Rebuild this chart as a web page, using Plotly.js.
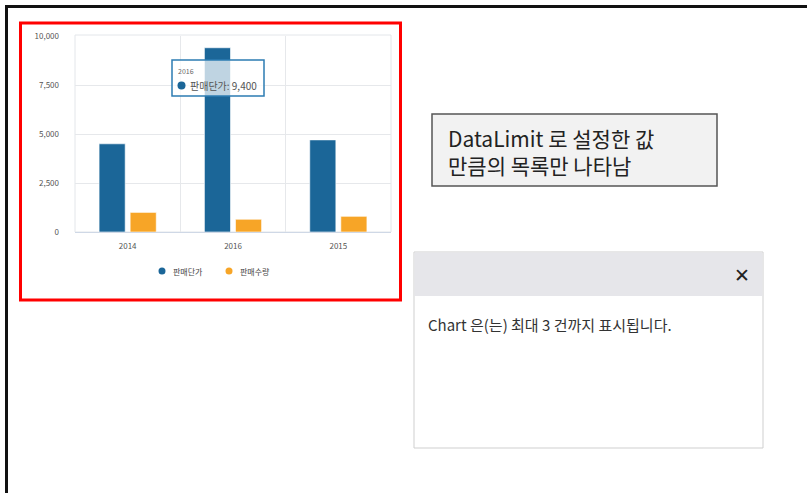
<!DOCTYPE html>
<html>
<head>
<meta charset="utf-8">
<script src="https://cdn.plot.ly/plotly-3.0.1.min.js"></script>
<style>
html,body{margin:0;padding:0;background:#fff;}
#chart{width:807px;height:493px;}
</style>
</head>
<body>
<div id="chart"></div>
<script>
const categories = ['2014', '2016', '2015'];
const seriesNames = ['판매단가', '판매수량'];
const unitPrice = [4500, 9400, 4700];
const quantity = [1000, 650, 800];
const yTicks = [0, 2500, 5000, 7500, 10000];
const yTickLabels = ['0', '2,500', '5,000', '7,500', '10,000'];
const noteText = ['DataLimit 로 설정한 값', '만큼의 목록만 나타남'];
const dialogText = 'Chart 은(는) 최대 3 건까지 표시됩니다.';

const W = 807, H = 493;
const px = x => x / W;
const py = y => 1 - y / H;
const blue = '#1b6698';
const orange = '#f7a527';
const KR = '"Noto Sans CJK KR", "Noto Sans", sans-serif';

const traces = [
  {type: 'bar', x: categories, y: unitPrice, name: seriesNames[0],
   marker: {color: blue, line: {color: 'rgba(255,255,255,0.6)', width: 1}},
   showlegend: false, hoverinfo: 'skip'},
  {type: 'bar', x: categories, y: quantity, name: seriesNames[1],
   marker: {color: orange, line: {color: 'rgba(255,255,255,0.6)', width: 1}},
   showlegend: false, hoverinfo: 'skip'}
];

const shapes = [
  // outer black frame (top and left)
  {type: 'line', xref: 'paper', yref: 'paper', x0: px(5.5), x1: px(807), y0: py(6.5), y1: py(6.5), line: {color: '#111', width: 3}},
  {type: 'line', xref: 'paper', yref: 'paper', x0: px(6.5), x1: px(6.5), y0: py(5), y1: py(493), line: {color: '#111', width: 3}},
  // red frame
  {type: 'rect', xref: 'paper', yref: 'paper', x0: px(20.5), x1: px(400.5), y0: py(23), y1: py(300), line: {color: '#ff0000', width: 3}},
  // plot area border
  {type: 'rect', xref: 'paper', yref: 'paper', x0: px(75), x1: px(391), y0: py(232), y1: py(35), line: {color: '#e3e6ea', width: 1}, layer: 'below'},
  // legend markers
  {type: 'circle', xref: 'paper', yref: 'paper', x0: px(158.5), x1: px(165.5), y0: py(267.5), y1: py(274.5), fillcolor: blue, line: {width: 0}},
  {type: 'circle', xref: 'paper', yref: 'paper', x0: px(225.5), x1: px(232.5), y0: py(267.5), y1: py(274.5), fillcolor: orange, line: {width: 0}},
  // tooltip box
  {type: 'rect', xref: 'paper', yref: 'paper', x0: px(172), x1: px(264), y0: py(96), y1: py(60), fillcolor: 'rgba(255,255,255,0.72)', line: {color: '#2d7cb3', width: 1.5}},
  // tooltip dot
  {type: 'circle', xref: 'paper', yref: 'paper', x0: px(177.5), x1: px(185.5), y0: py(81.5), y1: py(89.5), fillcolor: blue, line: {width: 0}},
  // note box
  {type: 'rect', xref: 'paper', yref: 'paper', x0: px(432), x1: px(717), y0: py(114), y1: py(186), fillcolor: '#f2f2f2', line: {color: '#555', width: 1.5}},
  // dialog
  {type: 'rect', xref: 'paper', yref: 'paper', x0: px(414), x1: px(763), y0: py(252), y1: py(448), fillcolor: '#ffffff', line: {color: '#cfcfcf', width: 1}},
  {type: 'rect', xref: 'paper', yref: 'paper', x0: px(414.5), x1: px(762.5), y0: py(252.5), y1: py(296), fillcolor: '#e6e6ea', line: {width: 0}}
];

const fmt = v => v.toLocaleString('en-US');

const annotations = [
  // legend labels
  {xref: 'paper', yref: 'paper', x: px(171), y: py(271), xanchor: 'left', yanchor: 'middle', showarrow: false,
   text: seriesNames[0], font: {family: KR, size: 8, color: '#444'}},
  {xref: 'paper', yref: 'paper', x: px(238), y: py(271), xanchor: 'left', yanchor: 'middle', showarrow: false,
   text: seriesNames[1], font: {family: KR, size: 8, color: '#444'}},
  // tooltip
  {xref: 'paper', yref: 'paper', x: px(176), y: py(71), xanchor: 'left', yanchor: 'middle', showarrow: false,
   text: categories[1], font: {family: KR, size: 7, color: '#666'}},
  {xref: 'paper', yref: 'paper', x: px(188), y: py(85.5), xanchor: 'left', yanchor: 'middle', showarrow: false,
   text: seriesNames[0] + ': ' + fmt(unitPrice[1]), font: {family: KR, size: 10, color: '#555'}},
  // note text
  {xref: 'paper', yref: 'paper', x: px(446), y: py(151.5), xanchor: 'left', yanchor: 'middle', showarrow: false, align: 'left',
   text: noteText.join('<br>'), font: {family: KR, size: 21, color: '#222'}},
  // dialog
  {xref: 'paper', yref: 'paper', x: px(742), y: py(275), xanchor: 'center', yanchor: 'middle', showarrow: false,
   text: '<b>✕</b>', font: {family: 'DejaVu Sans', size: 19, color: '#222'}},
  {xref: 'paper', yref: 'paper', x: px(426), y: py(324), xanchor: 'left', yanchor: 'middle', showarrow: false,
   text: dialogText, font: {family: KR, size: 15, color: '#333'}}
];

const layout = {
  width: W, height: H,
  margin: {l: 0, r: 0, t: 0, b: 0},
  paper_bgcolor: '#fff', plot_bgcolor: '#fff',
  showlegend: false,
  barmode: 'group', bargap: 0.41, bargroupgap: 0.16,
  font: {family: KR, size: 8, color: '#555'},
  xaxis: {
    domain: [px(75), px(391)], type: 'category', tickson: 'boundaries',
    showgrid: true, gridcolor: '#e6e8eb', gridwidth: 1,
    ticks: '', ticklen: 0, showline: true, linecolor: '#cfd8e6', linewidth: 1,
    tickfont: {family: KR, size: 8, color: '#555'}, ticklabelstandoff: 6,
    fixedrange: true
  },
  yaxis: {
    domain: [py(232), py(36)], range: [0, 10000],
    tickvals: yTicks, ticktext: yTickLabels,
    showgrid: true, gridcolor: '#e6e8eb', gridwidth: 1, zeroline: false,
    tickfont: {family: KR, size: 8, color: '#555'}, ticklabelstandoff: 15,
    fixedrange: true
  },
  shapes: shapes,
  annotations: annotations
};

Plotly.newPlot('chart', traces, layout, {displayModeBar: false, staticPlot: true});
</script>
</body>
</html>
